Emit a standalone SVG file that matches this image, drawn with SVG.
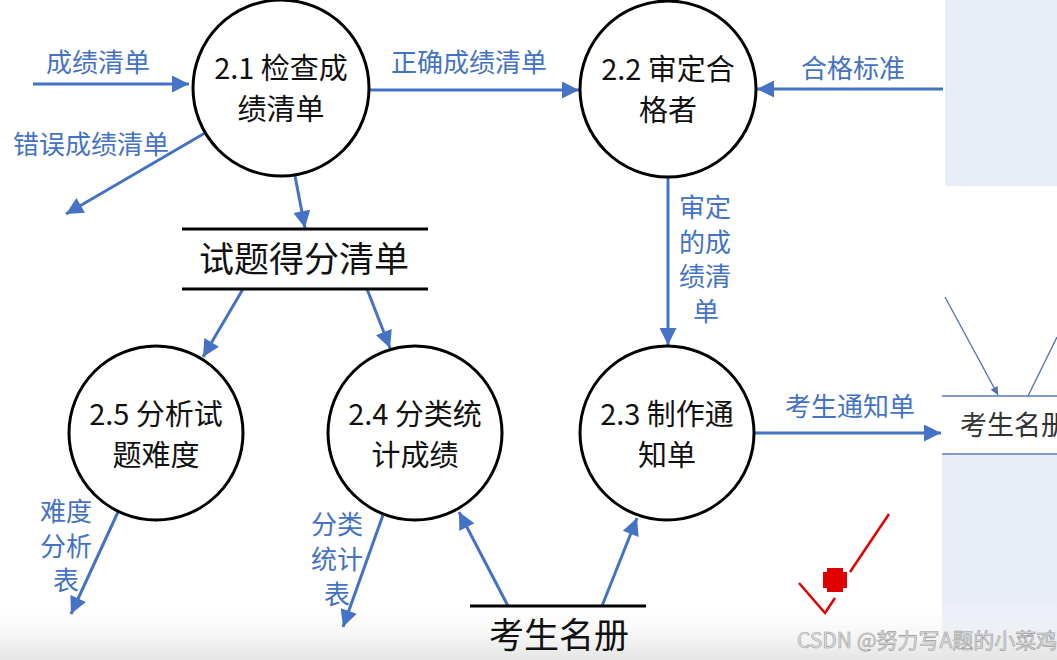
<svg xmlns="http://www.w3.org/2000/svg" width="1057" height="660" viewBox="0 0 1057 660">
<style>
.proc{fill:#fff;stroke:#000;stroke-width:3}
.ptxt{font-family:"Noto Sans CJK SC","Liberation Sans",sans-serif;font-size:29px;fill:#111;text-anchor:middle}
.flow{stroke:#4472C4;stroke-width:3;fill:none;marker-end:url(#ah)}
.thin{stroke:#4a6fb5;stroke-width:1.3;fill:none;marker-end:url(#ahs)}
.lbl{font-family:"Noto Sans CJK SC","Liberation Sans",sans-serif;font-size:26px;fill:#4472C4}
.stl{stroke:#000;stroke-width:3}
.stxt{font-family:"Noto Sans CJK SC","Liberation Sans",sans-serif;font-size:35px;fill:#111;text-anchor:middle}
</style>
<defs>
<marker id="ah" viewBox="0 0 10 10" refX="10" refY="5" markerWidth="20" markerHeight="17" markerUnits="userSpaceOnUse" orient="auto">
<path d="M0,0 L10,5 L0,10 z" fill="#4472C4"/>
</marker>
<marker id="ahs" viewBox="0 0 10 10" refX="10" refY="5" markerWidth="9" markerHeight="8" markerUnits="userSpaceOnUse" orient="auto">
<path d="M0,0 L10,5 L0,10 z" fill="#4a6fb5"/>
</marker>
<linearGradient id="fade" x1="0" y1="0" x2="0" y2="1">
<stop offset="0" stop-color="#ffffff" stop-opacity="0"/>
<stop offset="1" stop-color="#e4e4e4" stop-opacity="1"/>
</linearGradient>
</defs>
<rect width="1057" height="660" fill="#fff"/>
<g id="right-panel">
<rect x="945" y="0" width="112" height="186" fill="#E9EDF7"/>
<rect x="942" y="454" width="115" height="206" fill="#E9EDF7"/>
<line x1="942" y1="396" x2="1057" y2="396" stroke="#5a7ab8" stroke-width="1.3"/>
<line x1="942" y1="454" x2="1057" y2="454" stroke="#5a7ab8" stroke-width="1.3"/>
<text x="960" y="435" font-family="'Noto Sans CJK SC',sans-serif" font-size="27" fill="#333">考生名册</text>
</g>
<rect x="0" y="600" width="1057" height="60" fill="url(#fade)"/>
<g id="connectors">
<line class="flow" x1="33" y1="84" x2="189" y2="84"/>
<text class="lbl" x="46" y="72">成绩清单</text>
<line class="flow" x1="205" y1="133" x2="66" y2="214"/>
<text class="lbl" x="13" y="154">错误成绩清单</text>
<line class="flow" x1="295" y1="176" x2="305" y2="228"/>
<line class="flow" x1="369" y1="90" x2="579" y2="90"/>
<text class="lbl" x="391" y="72">正确成绩清单</text>
<line class="flow" x1="943" y1="89" x2="757" y2="89"/>
<text class="lbl" x="801" y="78">合格标准</text>
<line class="flow" x1="668" y1="177" x2="668" y2="345"/>
<text class="lbl" x="679" y="217">审定</text>
<text class="lbl" x="679" y="252">的成</text>
<text class="lbl" x="679" y="286">绩清</text>
<text class="lbl" x="693" y="321">单</text>
<line class="flow" x1="243" y1="289" x2="203" y2="357"/>
<line class="flow" x1="367" y1="289" x2="390" y2="348"/>
<line class="flow" x1="118" y1="512" x2="71" y2="614"/>
<text class="lbl" x="40" y="521">难度</text>
<text class="lbl" x="40" y="556">分析</text>
<text class="lbl" x="53" y="590">表</text>
<line class="flow" x1="383" y1="515" x2="343" y2="627"/>
<text class="lbl" x="311" y="534">分类</text>
<text class="lbl" x="311" y="569">统计</text>
<text class="lbl" x="324" y="604">表</text>
<line class="flow" x1="508" y1="606" x2="459" y2="512"/>
<line class="flow" x1="602" y1="606" x2="637" y2="518"/>
<line class="flow" x1="754" y1="433" x2="941" y2="433"/>
<text class="lbl" x="785" y="416">考生通知单</text>
<line class="thin" x1="945" y1="297" x2="998" y2="395"/>
<line x1="1057" y1="337" x2="1028" y2="396" stroke="#4a6fb5" stroke-width="1.3"/>
</g>
<g id="p21"><circle class="proc" cx="281" cy="88" r="88"/><text class="ptxt" x="281" y="79">2.1 检查成</text><text class="ptxt" x="281" y="120">绩清单</text></g>
<g id="p22"><circle class="proc" cx="668" cy="89" r="88"/><text class="ptxt" x="668" y="80">2.2 审定合</text><text class="ptxt" x="668" y="121">格者</text></g>
<g id="p25"><circle class="proc" cx="156" cy="433" r="87"/><text class="ptxt" x="156" y="425">2.5 分析试</text><text class="ptxt" x="156" y="466">题难度</text></g>
<g id="p24"><circle class="proc" cx="415" cy="433" r="87"/><text class="ptxt" x="415" y="425">2.4 分类统</text><text class="ptxt" x="415" y="466">计成绩</text></g>
<g id="p23"><circle class="proc" cx="667" cy="433" r="87"/><text class="ptxt" x="667" y="425">2.3 制作通</text><text class="ptxt" x="667" y="466">知单</text></g>
<g id="store1">
<line class="stl" x1="182" y1="229" x2="428" y2="229"/>
<line class="stl" x1="182" y1="289" x2="428" y2="289"/>
<text class="stxt" x="304" y="272">试题得分清单</text>
</g>
<g id="store2">
<line class="stl" x1="470" y1="606" x2="646" y2="606"/>
<text class="stxt" x="559" y="648">考生名册</text>
</g>
<g id="check">
<polyline points="799,583 825,613 835,598" fill="none" stroke="#e00000" stroke-width="2.5"/>
<line x1="850" y1="572" x2="889" y2="514" stroke="#e00000" stroke-width="2.5"/>
<rect x="823" y="572" width="24" height="16" fill="#e00000"/>
<rect x="827" y="568" width="16" height="24" fill="#e00000"/>
</g>
<text x="797" y="648" font-family="'Noto Sans CJK SC','Liberation Sans',sans-serif" font-size="21" fill="#e2e2e2" stroke="#9a9a9a" stroke-width="0.6">CSDN @努力写A题的小菜鸡</text>
</svg>
